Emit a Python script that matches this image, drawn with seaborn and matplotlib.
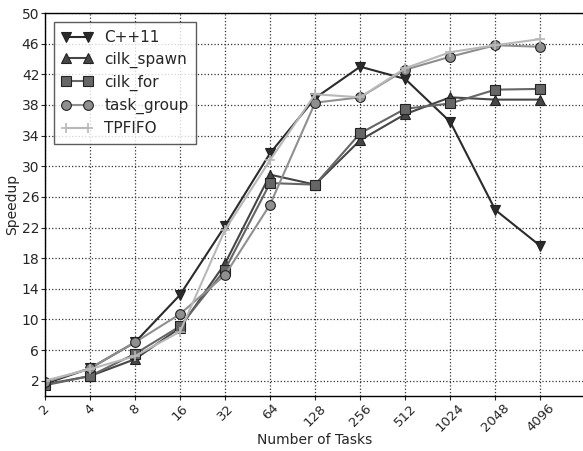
import numpy as np
import pandas as pd
import seaborn as sns
import matplotlib
matplotlib.use("Agg")
import matplotlib.pyplot as plt

tasks = ["2", "4", "8", "16", "32", "64", "128", "256", "512", "1024", "2048", "4096"]

cpp11 = [1.6, 3.6, 7.0, 13.2, 22.2, 31.7, 38.9, 43.0, 41.4, 35.8, 24.3, 19.6]
cilk_spawn = [1.5, 2.6, 4.8, 8.9, 17.3, 28.9, 27.6, 33.4, 36.8, 39.0, 38.7, 38.7]
cilk_for = [1.4, 2.6, 5.5, 9.1, 16.5, 27.8, 27.6, 34.3, 37.5, 38.2, 40.0, 40.1]
task_group = [1.8, 3.6, 7.0, 10.7, 15.8, 25.0, 38.3, 39.0, 42.6, 44.3, 45.8, 45.6]
tpfifo = [2.0, 3.5, 5.2, 8.4, 21.7, 30.8, 39.4, 39.0, 42.8, 44.9, 45.8, 46.6]

series = {
    "C++11": cpp11,
    "cilk_spawn": cilk_spawn,
    "cilk_for": cilk_for,
    "task_group": task_group,
    "TPFIFO": tpfifo,
}
styles = {
    "C++11": ("v", "#2b2b2b"),
    "cilk_spawn": ("^", "#464646"),
    "cilk_for": ("s", "#666666"),
    "task_group": ("o", "#8f8f8f"),
    "TPFIFO": ("+", "#b8b8b8"),
}

rows = []
for name, vals in series.items():
    for i, v in enumerate(vals):
        rows.append({"pos": i, "speedup": v, "impl": name})
df = pd.DataFrame(rows)

sns.set_style("white")
plt.rcParams["font.family"] = ["DejaVu Sans"]

fig = plt.figure(figsize=(5.83, 4.51), dpi=100)
ax = fig.add_axes([0.077, 0.122, 0.927, 0.849])

for name in series:
    marker, color = styles[name]
    sub = df[df["impl"] == name]
    sns.lineplot(data=sub, x="pos", y="speedup", ax=ax, color=color, marker=marker,
                 markersize=7, markeredgecolor="#222222" if marker != "+" else color,
                 markeredgewidth=0.8 if marker != "+" else 1.2, linewidth=1.5, label=name)

ax.set_xlim(0, 12)
ax.set_ylim(0, 50)
ax.set_xticks(range(len(tasks)))
ax.set_xticklabels(tasks, rotation=45, fontsize=9.5)
ax.set_yticks(range(2, 51, 4))
ax.tick_params(axis="y", labelsize=10, direction="out", length=3, pad=1, left=True)
ax.tick_params(axis="x", direction="out", length=3, pad=1, bottom=True)
ax.grid(True, linestyle=":", color="#333333", linewidth=0.9)
for s in ax.spines.values():
    s.set_color("black")
    s.set_linewidth(1.0)
ax.set_xlabel("Number of Tasks", fontsize=10, labelpad=-1)
ax.set_ylabel("Speedup", fontsize=10, labelpad=2)

leg = ax.legend(loc="upper left", fontsize=11, frameon=True, fancybox=False, numpoints=2,
                borderpad=0.5, handlelength=2.0, labelspacing=0.45, borderaxespad=0.6)
leg.get_frame().set_edgecolor("#333333")
leg.get_frame().set_linewidth(1.0)

fig.savefig("out.png", dpi=100)
